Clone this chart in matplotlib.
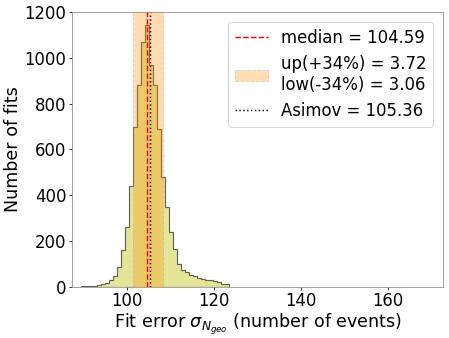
import numpy as np
import matplotlib
matplotlib.use("Agg")
import matplotlib.pyplot as plt

# bin edges and counts
bin_edges = [89.40, 90.32, 91.24, 92.16, 93.08, 94.00, 94.92, 95.84, 96.76,
             97.68, 98.60, 99.52, 100.44, 101.36, 102.28, 103.20, 104.12,
             105.04, 105.96, 106.88, 107.80, 108.72, 109.64, 110.56, 111.48,
             112.40, 113.32, 114.24, 115.16, 116.08, 117.00, 117.92, 118.84,
             119.76, 120.68, 121.60, 122.52, 123.44]
counts = [2, 3, 3, 4, 7, 12, 18, 28, 45, 85, 160, 260, 440, 700, 880, 1070,
          1145, 970, 880, 690, 480, 350, 240, 165, 100, 73, 64, 51, 46, 36,
          32, 30, 28, 24, 21, 12, 10]

median = 104.59
err_up = 3.72
err_low = 3.06
asimov = 105.36

fig = plt.figure(figsize=(449 / 70, 338 / 70), dpi=70)
ax = fig.add_axes([0.161, 0.152, 0.826, 0.812])

centers = 0.5 * (np.array(bin_edges[:-1]) + np.array(bin_edges[1:]))
ax.hist(centers, bins=bin_edges, weights=counts, histtype="stepfilled",
        facecolor=(0.75, 0.75, 0.0, 0.4), edgecolor=(0, 0, 0, 0.6), lw=1.2)

ax.axvline(median, color="red", ls="--", lw=1.5,
           label="median = %.2f" % median)
ax.axvspan(median - err_low, median + err_up, facecolor="darkorange",
           alpha=0.3, edgecolor="0.6", ls="--", lw=1,
           label="up(+34%%) = %.2f\nlow(-34%%) = %.2f" % (err_up, err_low))
ax.axvline(asimov, color="black", ls=":", lw=1.5,
           label="Asimov = %.2f" % asimov)

ax.set_xlim(87.5, 172.6)
ax.set_ylim(0, 1200)
ax.set_xticks([100, 120, 140, 160])
ax.set_yticks(range(0, 1201, 200))
ax.tick_params(labelsize=17, pad=2.5)
for s in ax.spines.values():
    s.set_color("0.55")

ax.set_xlabel(r"Fit error $\sigma_{N_{geo}}$ (number of events)", fontsize=18,
              labelpad=1)
ax.set_ylabel("Number of fits", fontsize=18, labelpad=3)
ax.legend(loc="upper right", fontsize=17, borderaxespad=0.6,
          labelspacing=0.5, handlelength=2.0)

fig.savefig("out.png", dpi=70)
